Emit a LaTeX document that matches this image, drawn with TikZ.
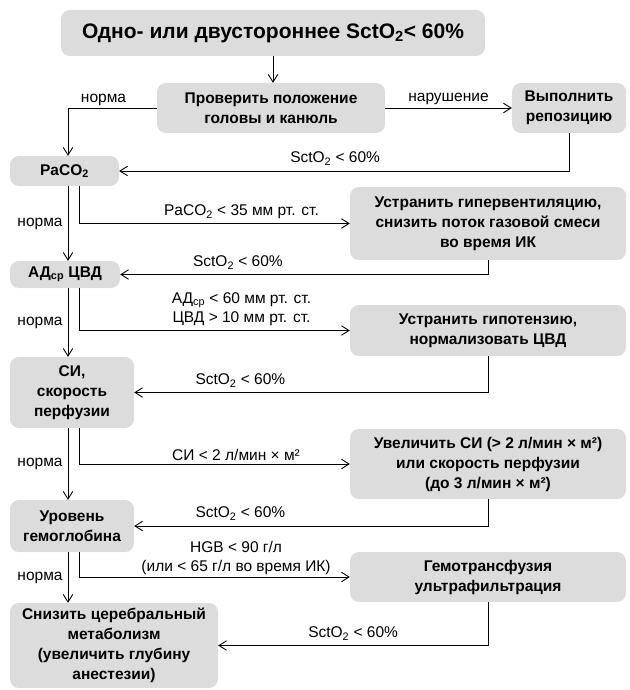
\documentclass[tikz,border=0pt]{standalone}
\usepackage{fontspec}
\setmainfont{Liberation Sans}
\usetikzlibrary{arrows.meta}
\definecolor{boxgray}{HTML}{DCDCDC}
\tikzstyle{box} = [rectangle, rounded corners=9pt, fill=boxgray, align=center, inner sep=2pt, font=\bfseries\fontsize{15.5}{20}\selectfont]
\tikzstyle{lbl} = [font=\fontsize{15.5}{19}\selectfont, inner sep=2pt, align=center]
\tikzstyle{arrow} = [->, >={Straight Barb[length=7.5pt,width=9.5pt]}, line width=0.9pt]

\begin{document}
\begin{tikzpicture}[x=1pt, y=-1pt]
        \useasboundingbox (0,0) rectangle (629,690);
        % boxes
        \node (start) [box, minimum width=424pt, minimum height=46pt, font=\bfseries\fontsize{21}{25}\selectfont] at (273,33) {Одно- или двустороннее SctO\textsubscript{2}< 60\%};
        \node (chk) [box, minimum width=228pt, minimum height=50pt] at (271,108) {Проверить положение\\головы и канюль};
        \node (rep) [box, minimum width=114pt, minimum height=50pt] at (569,108) {Выполнить\\репозицию};
        \node (paco) [box, minimum width=109pt, minimum height=30pt] at (64.5,171) {PaCO\textsubscript{2}};
        \node (hyp) [box, minimum width=276pt, minimum height=73pt] at (488,223.5) {Устранить гипервентиляцию,\\снизить поток газовой смеси\\во время ИК};
        \node (ad) [box, minimum width=110pt, minimum height=27pt] at (65,274.5) {АД\textsubscript{ср} ЦВД};
        \node (hypo) [box, minimum width=276pt, minimum height=51pt] at (488,330.5) {Устранить гипотензию,\\нормализовать ЦВД};
        \node (ci) [box, minimum width=124pt, minimum height=71pt] at (72,392.5) {СИ,\\скорость\\перфузии};
        \node (inc) [box, minimum width=276pt, minimum height=70pt] at (488,464) {Увеличить СИ (> 2 л/мин × м²)\\или скорость перфузии\\(до 3 л/мин × м²)};
        \node (hb) [box, minimum width=124pt, minimum height=52pt] at (72,526) {Уровень\\гемоглобина};
        \node (hem) [box, minimum width=276pt, minimum height=50pt] at (488,577) {Гемотрансфузия\\ультрафильтрация};
        \node (red) [box, minimum width=208pt, minimum height=85pt] at (114,645.5) {Снизить церебральный\\метаболизм\\(увеличить глубину\\анестезии)};
        \coordinate (nx) at (68,0);
        \coordinate (bx) at (79,0);
        % connectors
        \draw [arrow] (start.south) -- (start.south |- chk.north);
        \draw [arrow] (chk.west) -| node[lbl, pos=0.3, above=0pt] {норма} (paco.north -| nx);
        \draw [arrow] (chk.east) -- node[lbl, above=1pt] {нарушение} (rep.west);
        \draw [arrow] (rep.south) |- node[lbl, pos=0.76, above=3pt] {SctO\textsubscript{2} < 60\%} (paco.east);
        \draw [arrow] (paco.south -| nx) -- node[lbl, left, xshift=-3pt] {норма} (ad.north -| nx);
        \draw [arrow] (paco.south -| bx) |- node[lbl, pos=0.8, above=2pt] {PaCO\textsubscript{2} < 35 мм рт. ст.} (hyp.west);
        \draw [arrow] (hyp.south) |- node[lbl, pos=0.84, above=3pt] {SctO\textsubscript{2} < 60\%} (ad.east);
        \draw [arrow] (ad.south -| nx) -- node[lbl, left, xshift=-3pt] {норма} (ci.north -| nx);
        \draw [arrow] (ad.south -| bx) |- node[lbl, pos=0.8, above=2pt] {АД\textsubscript{ср} < 60 мм рт. ст.\\ЦВД > 10 мм рт. ст.} (hypo.west);
        \draw [arrow] (hypo.south) |- node[lbl, pos=0.85, above=3pt] {SctO\textsubscript{2} < 60\%} (ci.east);
        \draw [arrow] (ci.south -| nx) -- node[lbl, left, xshift=-3pt] {норма} (hb.north -| nx);
        \draw [arrow] (ci.south -| bx) |- node[lbl, pos=0.79, above=1pt] {СИ < 2 л/мин × м²} (inc.west);
        \draw [arrow] (inc.south) |- node[lbl, pos=0.85, above=3pt] {SctO\textsubscript{2} < 60\%} (hb.east);
        \draw [arrow] (hb.south -| nx) -- node[lbl, left, xshift=-3pt] {норма} (red.north -| nx);
        \draw [arrow] (hb.south -| bx) |- node[lbl, pos=0.79, above=0pt] {HGB < 90 г/л\\(или < 65 г/л во время ИК)} (hem.west);
        \draw [arrow] (hem.south) |- node[lbl, pos=0.75, above=3pt] {SctO\textsubscript{2} < 60\%} (red.east);
    \end{tikzpicture}
\end{document}
